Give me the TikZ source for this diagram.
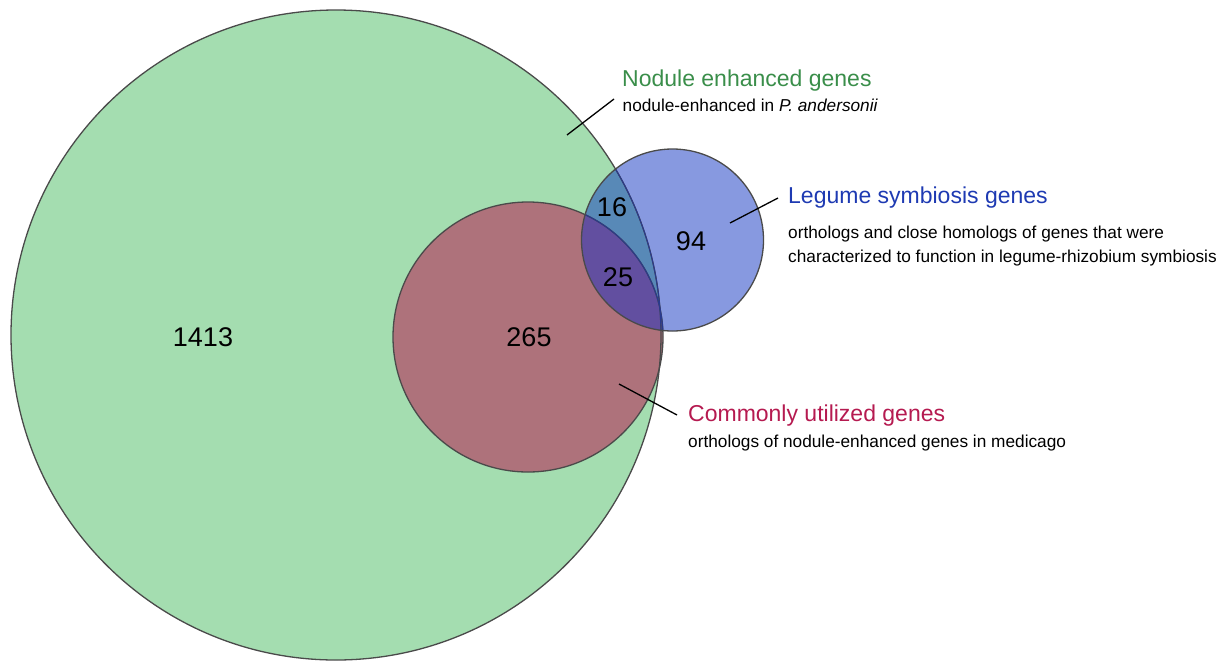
\documentclass[tikz,border=0pt]{standalone}
\usepackage{fontspec}
\setmainfont{Liberation Sans}
\definecolor{gfill}{HTML}{A4DDB0}
\definecolor{rfill}{HTML}{AE727B}
\definecolor{bfill}{HTML}{8799E0}
\definecolor{gbfill}{HTML}{5889B7}
\definecolor{rbfill}{HTML}{624FA0}
\definecolor{edge}{HTML}{4A4A4A}
\definecolor{navy}{HTML}{2A3A8C}
\definecolor{ghead}{HTML}{3A8E4A}
\definecolor{bhead}{HTML}{1E3AB2}
\definecolor{rhead}{HTML}{B51A50}
\begin{document}
\begin{tikzpicture}[x=1pt,y=-1pt,
  numlabel/.style={inner sep=0pt,font=\fontsize{27}{32}\selectfont},
  headlabel/.style={anchor=base west,inner sep=0pt,font=\fontsize{23}{27}\selectfont},
  bodylabel/.style={anchor=base west,inner sep=0pt,font=\fontsize{17.25}{24}\selectfont,align=left},
  leader/.style={line width=1.3pt,black},
  outline/.style={line width=1.3pt,edge}]
\useasboundingbox (0,0) rectangle (1226,662);
\coordinate (cg) at (336,335);
\coordinate (cr) at (528,337);
\coordinate (cb) at (672.5,240);
\def\rg{325}\def\rr{135}\def\rb{91}
% fills
\fill[gfill] (cg) circle[radius=\rg];
\fill[rfill] (cr) circle[radius=\rr];
\fill[bfill] (cb) circle[radius=\rb];
\begin{scope}
  \clip (cb) circle[radius=\rb];
  \fill[gbfill] (cg) circle[radius=\rg];
  \clip (cr) circle[radius=\rr];
  \fill[rbfill] (cr) circle[radius=\rr];
\end{scope}
% outlines
\draw[outline] (cg) circle[radius=\rg];
\draw[outline] (cr) circle[radius=\rr];
\begin{scope}
  \clip (cb) circle[radius=\rb];
  \draw[line width=1.1pt,navy] (cg) circle[radius=\rg];
  \draw[line width=1.1pt,navy] (cr) circle[radius=\rr];
\end{scope}
\draw[outline] (cb) circle[radius=\rb];
% numbers
\node[numlabel] (n1413) at (203,337) {1413};
\node[numlabel] (n265) at (529,337) {265};
\node[numlabel] (n16) at (612,207) {16};
\node[numlabel] (n25) at (618,277) {25};
\node[numlabel] (n94) at (691,241) {94};
% labels
\node[headlabel,text=ghead] (hg) at (622,86.5) {Nodule enhanced genes};
\node[bodylabel] (sg) at (622.5,111.5) {nodule-enhanced in \textit{P. andersonii}};
\node[headlabel,text=bhead] (hb) at (788,203) {Legume symbiosis genes};
\node[bodylabel] (sb1) at (788,238) {orthologs and close homologs of genes that were};
\node[bodylabel] (sb2) at (788,262) {characterized to function in legume-rhizobium symbiosis};
\node[headlabel,text=rhead] (hr) at (688,421.5) {Commonly utilized genes};
\node[bodylabel] (sr) at (688,447) {orthologs of nodule-enhanced genes in medicago};
% leader lines
\coordinate (lg1) at (567,135); \coordinate (lg2) at (614,99);
\coordinate (lb1) at (730,223); \coordinate (lb2) at (778,198);
\coordinate (lr1) at (619,384); \coordinate (lr2) at (677,415);
\draw[leader] (lg1) -- (lg2);
\draw[leader] (lb1) -- (lb2);
\draw[leader] (lr1) -- (lr2);
\end{tikzpicture}
\end{document}
